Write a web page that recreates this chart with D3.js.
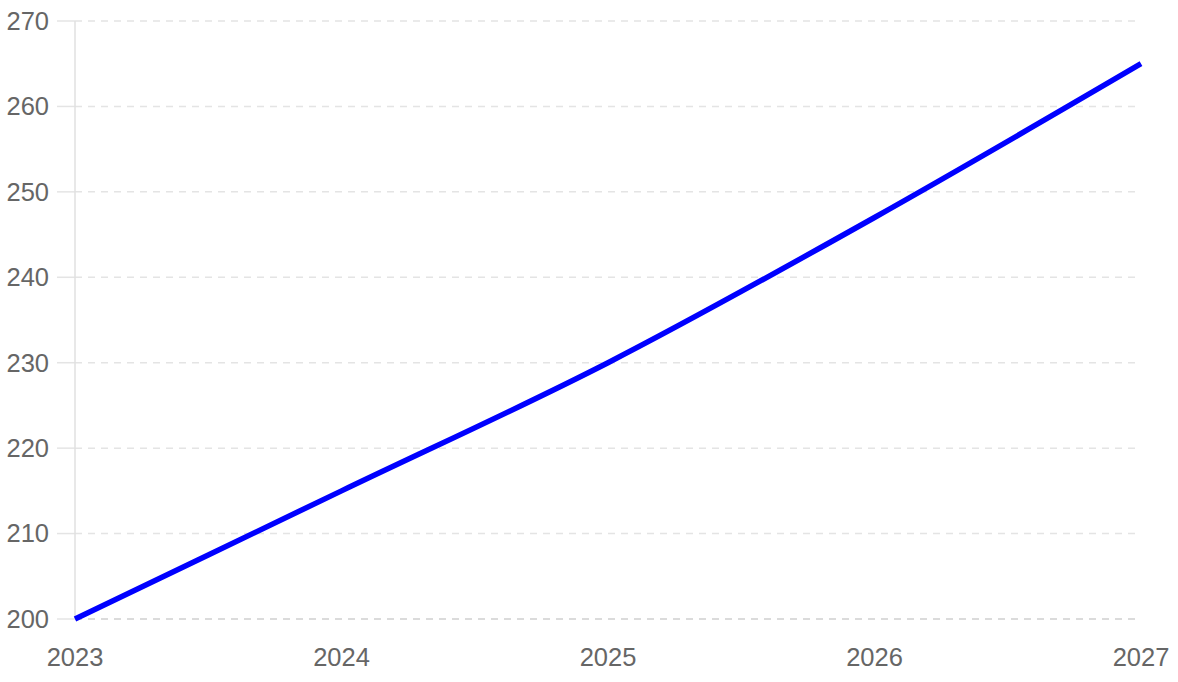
<!DOCTYPE html>
<html>
<head>
<meta charset="utf-8">
<script src="https://cdn.jsdelivr.net/npm/d3@7"></script>
<style>
  body { margin: 0; background: #fff; }
  text { font-family: "Liberation Sans", Arial, sans-serif; fill: #666; }
</style>
</head>
<body>
<div id="chart-area"></div>
<script>
const years = [2023, 2024, 2025, 2026, 2027]
const values = [200, 215, 230, 247, 265]
const yTicks = [200, 210, 220, 230, 240, 250, 260, 270]

const MARGIN = { LEFT: 75, RIGHT: 37, TOP: 21, BOTTOM: 63 }
const WIDTH = 1178 - MARGIN.LEFT - MARGIN.RIGHT
const HEIGHT = 682 - MARGIN.TOP - MARGIN.BOTTOM

const svg = d3.select("#chart-area").append("svg")
  .attr("width", 1178)
  .attr("height", 682)

const g = svg.append("g")
  .attr("transform", `translate(${MARGIN.LEFT}, ${MARGIN.TOP})`)

const x = d3.scaleLinear().domain([2023, 2027]).range([0, WIDTH])
const y = d3.scaleLinear().domain([200, 270]).range([HEIGHT, 0])

// grid lines + left tick marks
const grid = g.append("g")
yTicks.forEach(t => {
  grid.append("line")
    .attr("x1", 0).attr("x2", WIDTH)
    .attr("y1", y(t)).attr("y2", y(t))
    .attr("stroke", t === 200 ? "#cfcfcf" : "#e4e4e4")
    .attr("stroke-width", 1.5)
    .attr("stroke-dasharray", "7,6")
  grid.append("line")
    .attr("x1", -18).attr("x2", 0)
    .attr("y1", y(t)).attr("y2", y(t))
    .attr("stroke", "#e4e4e4")
    .attr("stroke-width", 1.5)
})

// y axis line
g.append("line")
  .attr("x1", 0).attr("x2", 0)
  .attr("y1", 0).attr("y2", HEIGHT)
  .attr("stroke", "#e0e0e0")
  .attr("stroke-width", 1.5)

// y labels
g.append("g").selectAll("text")
  .data(yTicks)
  .enter()
  .append("text")
  .attr("x", -26)
  .attr("y", d => y(d))
  .attr("dy", "0.35em")
  .attr("text-anchor", "end")
  .attr("font-size", "25.5px")
  .text(d => d)

// x labels
g.append("g").selectAll("text")
  .data(years)
  .enter()
  .append("text")
  .attr("x", d => x(d))
  .attr("y", HEIGHT + 47)
  .attr("text-anchor", "middle")
  .attr("font-size", "25.5px")
  .text(d => d)

// the line
const line = d3.line()
  .x((d, i) => x(years[i]))
  .y(d => y(d))
  .curve(d3.curveMonotoneX)

g.append("path")
  .datum(values)
  .attr("fill", "none")
  .attr("stroke", "#0000ff")
  .attr("stroke-width", 5.5)
  .attr("d", line)
</script>
</body>
</html>
